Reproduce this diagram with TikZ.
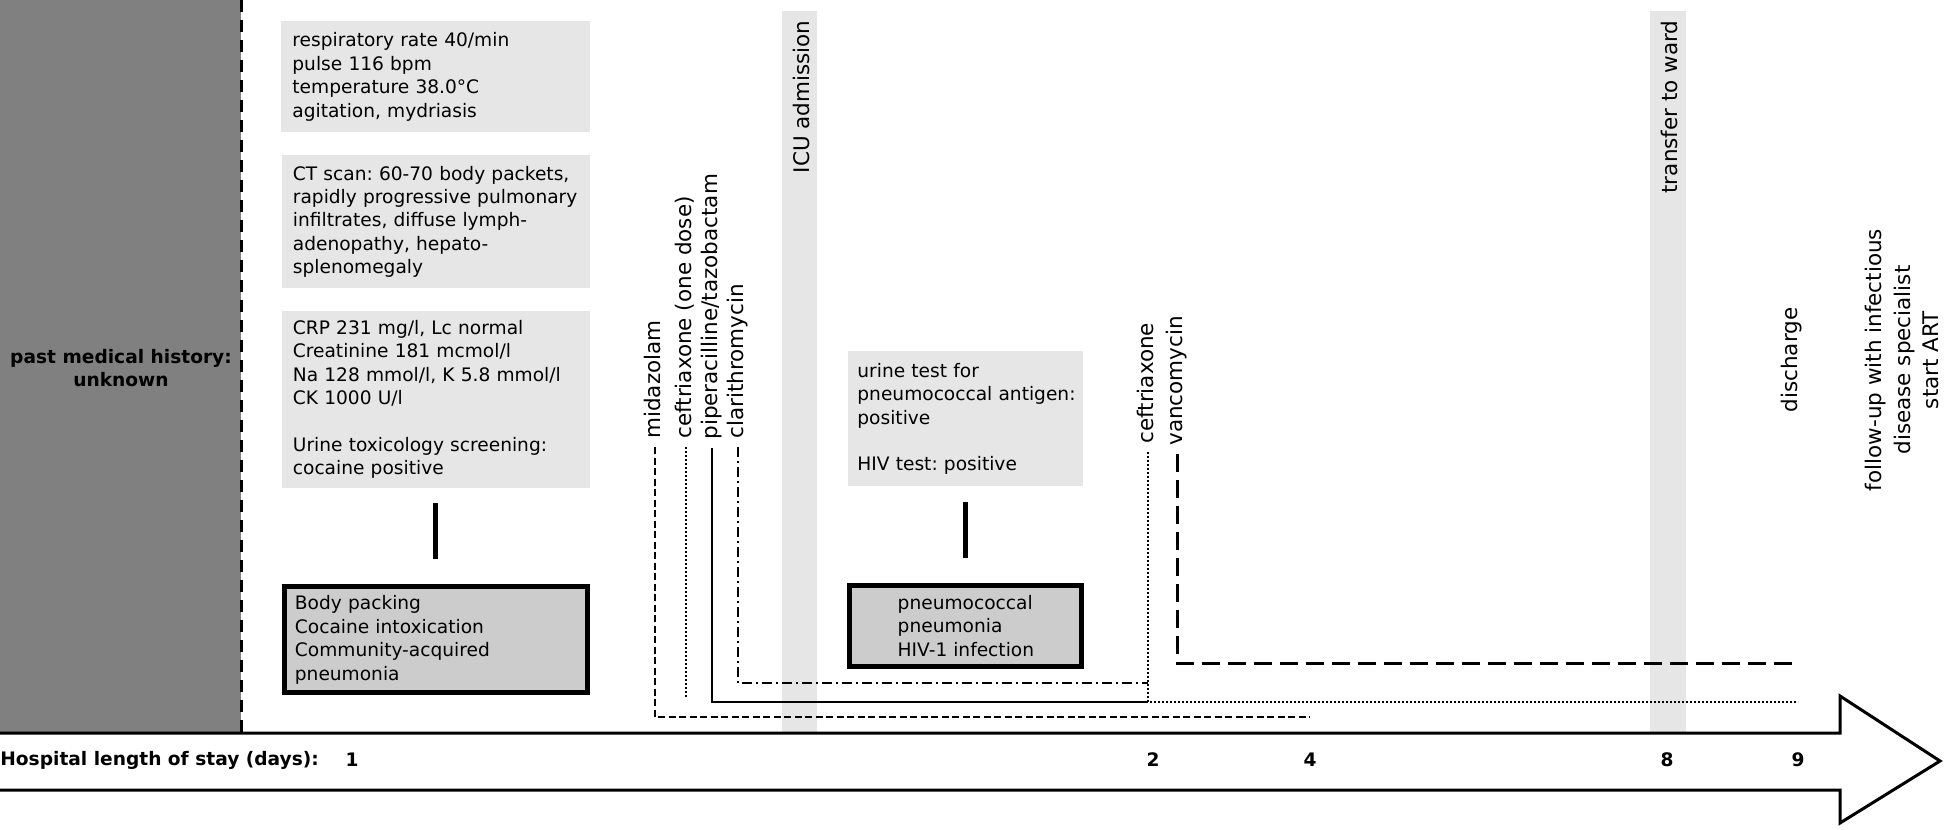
\documentclass[tikz,border=0pt]{standalone}
\usepackage{fontspec}
\setmainfont{DejaVu Sans}
\usetikzlibrary{positioning}
\frenchspacing
\definecolor{histgrey}{HTML}{808080}
\definecolor{infogrey}{HTML}{E6E6E6}
\definecolor{diaggrey}{HTML}{CCCCCC}
\newcommand{\boxfont}{\fontsize{9.3}{11.7}\selectfont}
\newcommand{\rotfont}{\fontsize{10.75}{14.25}\selectfont}
\tikzset{
  infobox/.style={fill=infogrey, anchor=north west, align=left, inner xsep=5.5pt, inner ysep=0pt, font=\boxfont},
  diagbox/.style={fill=diaggrey, draw=black, line width=2.5pt, align=left, inner xsep=5.25pt, inner ysep=0pt, font=\boxfont},
  druglabel/.style={rotate=90, anchor=west, font=\rotfont, inner xsep=4pt, inner ysep=0pt, text height=0.75em, text depth=0.25em},
  barlabel/.style={rotate=90, anchor=east, font=\rotfont, inner sep=0pt},
  daylabel/.style={font=\boxfont\bfseries, inner sep=0pt},
  link/.style={line width=2.5pt, shorten <=7.5pt, shorten >=12.5pt},
  midline/.style={line width=1.25pt, dash pattern=on 3.5pt off 1.75pt},
  doseline/.style={line width=1.25pt, dash pattern=on 0.8pt off 1.2pt},
  pipline/.style={line width=1.25pt},
  clarline/.style={line width=1.25pt, dash pattern=on 5pt off 2pt on 1pt off 2pt},
  vancoline/.style={line width=1.5pt, dash pattern=on 9pt off 4pt},
}
\begin{document}
\begin{tikzpicture}[x=0.5pt, y=-0.5pt]
  \useasboundingbox (0,0) rectangle (1946,829);
  % past history panel
  \fill[histgrey] (0,0) rectangle (241,733);
  \draw[line width=1.5pt, dash pattern=on 6pt off 4pt] (241,0) -- (241,733);
  \node[font=\boxfont\bfseries, align=center] (pmh) at (121,368) {past medical history:\\unknown};
  % ICU and ward bars
  \fill[infogrey] (782,11) rectangle (817,733);
  \fill[infogrey] (1650,11) rectangle (1686,733);
  \node[barlabel] (icu) at (801,20) {ICU admission};
  \node[barlabel] (ward) at (1669,20) {transfer to ward};
  % findings on day 1
  \node[infobox, text width=143.5pt, minimum height=55.5pt] (vitals) at (281,21)
    {respiratory rate 40/min\\pulse 116 bpm\\temperature 38.0°C\\agitation, mydriasis};
  \node[infobox, text width=143pt, minimum height=66.5pt, below=11pt of vitals] (ctscan)
    {CT scan: 60-70 body packets,\\\mbox{rapidly progressive pulmonary}\\infiltrates, diffuse lymph-\\adenopathy, hepato-\\splenomegaly};
  \node[infobox, text width=143pt, minimum height=88.5pt, below=11pt of ctscan] (labs)
    {CRP 231 mg/l, Lc normal\\Creatinine 181 mcmol/l\\Na 128 mmol/l, K 5.8 mmol/l\\CK 1000 U/l\\[11.7pt]Urine toxicology screening:\\cocaine positive};
  \node[diagbox, text width=141pt, minimum height=53pt, below=48pt of labs] (dxone)
    {Body packing\\Cocaine intoxication\\Community-acquired\\pneumonia};
  \draw[link] (labs.south) -- (dxone.north);
  % findings on day 2
  \node[infobox, inner xsep=4.5pt, text width=108.5pt, minimum height=67.5pt] (urine) at (848,351)
    {urine test for\\\mbox{pneumococcal antigen:}\\positive\\[11.7pt]HIV test: positive};
  \node[diagbox, minimum width=116pt, minimum height=40.5pt, below=48pt of urine] (dxtwo)
    {pneumococcal\\pneumonia\\HIV-1 infection};
  \draw[link] (urine.south) -- (dxtwo.north);
  % medication
  \node[druglabel] (midaz) at (655,447) {midazolam};
  \node[druglabel] (onedose) at (686,447) {ceftriaxone (one dose)};
  \node[druglabel] (piptaz) at (712,448) {piperacilline/tazobactam};
  \node[druglabel] (clar) at (738,447) {clarithromycin};
  \node[druglabel] (ceft) at (1148,452) {ceftriaxone};
  \node[druglabel] (vanco) at (1177,454) {vancomycin};
  \coordinate (midend) at (1310,717);
  \coordinate (doseend) at (686,697);
  \coordinate (pipend) at (1148,702);
  \coordinate (clarend) at (1148,683);
  \coordinate (ceftend) at (1798,702);
  \coordinate (vancoend) at (1797,663);
  \draw[midline] (midaz.west) |- (midend);
  \draw[doseline] (onedose.west) -- (doseend);
  \draw[pipline] (piptaz.west) |- (pipend);
  \draw[clarline] (clar.west) |- (clarend);
  \draw[doseline] (ceft.west) |- (ceftend);
  \draw[vancoline] (vanco.west) |- (vancoend);
  % discharge and follow-up
  \node[rotate=90, font=\rotfont, inner sep=0pt] (discharge) at (1792,360) {discharge};
  \node[rotate=90, font=\rotfont, align=center, inner sep=0pt] (followup) at (1902,360)
    {follow-up with infectious\\disease specialist\\start ART};
  % time arrow
  \draw[line width=1.5pt, fill=white] (0,733) -- (1840,733) -- (1840,696) -- (1940,761)
    -- (1840,823) -- (1840,790) -- (0,790);
  \node[daylabel, anchor=west] (stay) at (0,760) {Hospital length of stay (days):};
  \foreach \d/\x in {1/352, 2/1153, 4/1310, 8/1667, 9/1798}
    \node[daylabel] (day\d) at (\x,760) {\d};
\end{tikzpicture}
\end{document}
